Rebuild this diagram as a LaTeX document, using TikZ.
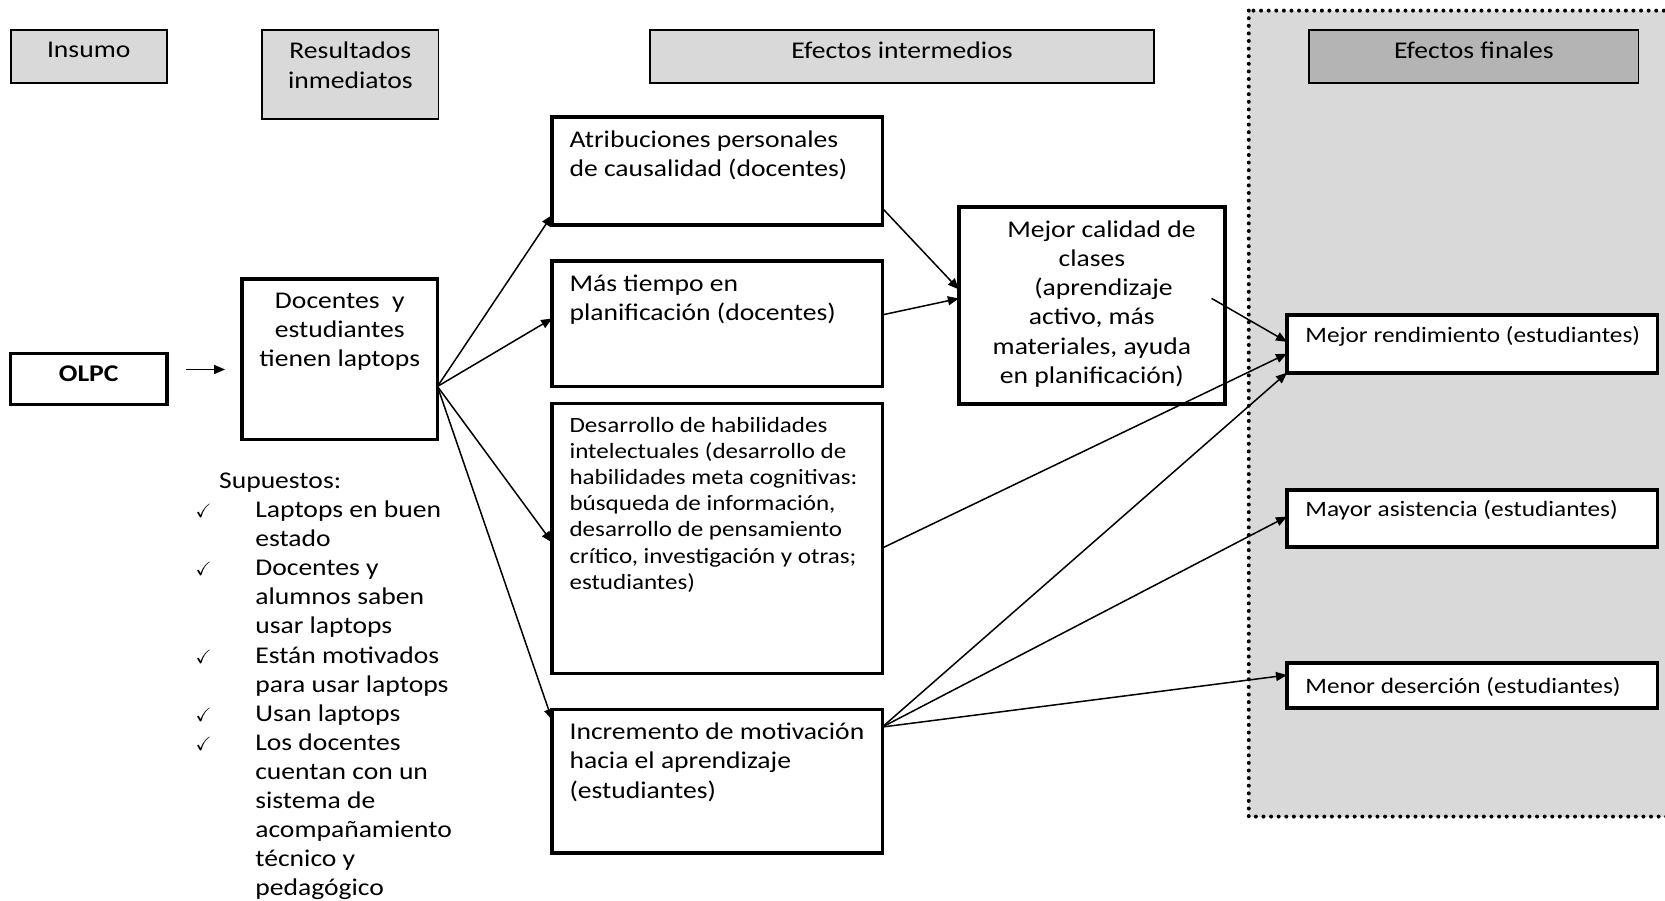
\documentclass[tikz,border=0pt]{standalone}
\usepackage{amssymb}
\usepackage{fontspec}
\setmainfont{Carlito}[FakeStretch=1.15]
\usetikzlibrary{arrows.meta, positioning, calc}
\definecolor{cHead}{RGB}{217,217,217}
\definecolor{cHeadDark}{RGB}{180,180,180}
\definecolor{cZona}{RGB}{217,217,217}
\tikzset{
	hdr/.style ={rectangle, draw=black, line width=0.9pt, fill=cHead, anchor=north west, inner sep=0pt, outer sep=0pt},
	blk/.style ={rectangle, draw=black, line width=1.8pt, fill=white, anchor=north west, inner sep=0pt, outer sep=0pt},
	txtl/.style={anchor=north west, align=left, inner sep=0pt},
	txtc/.style={anchor=north, align=center, inner sep=0pt},
	sig/.style ={-{Triangle[length=5.5pt, width=4.5pt]}, line width=0.75pt},
	zona/.style={fill=cZona, line width=2pt, line cap=round, dash pattern=on 0pt off 3.8pt},
}
\newcommand{\chk}{\makebox[30.3pt][l]{\hspace{0.5pt}\scalebox{0.8}{$\checkmark$}}}

\begin{document}
\begin{tikzpicture}[x=0.531pt, y=-0.531pt, font=\fontsize{12}{14.6}\selectfont]
	\useasboundingbox (0,0) rectangle (1568,848);
	\clip (0,0) rectangle (1568,848);
	% encabezados
	\node[hdr, minimum width=78.1pt, minimum height=26.6pt] (insumo) at (10,28) {};
	\node[txtc] (insumo-t) at ([yshift=-6.1pt]insumo.north) {Insumo};
	\node[hdr, minimum width=88.1pt, minimum height=44.6pt] (resul) at (247,28) {};
	\node[txtc] (resul-t) at ([yshift=-6.1pt]resul.north) {Resultados\\inmediatos};
	\node[hdr, minimum width=252.2pt, minimum height=26.6pt] (interm) at (612,28) {};
	\node[txtc] (interm-t) at ([yshift=-6.1pt]interm.north) {Efectos intermedios};
	% zona de efectos finales
	\draw[zona] (1176,10) rectangle (1600,769);
	\node[hdr, fill=cHeadDark, minimum width=164.6pt, minimum height=26.6pt] (finales) at (1233,28) {};
	\node[txtc] (finales-t) at ([yshift=-6.1pt]finales.north) {Efectos finales};

	% insumo y resultados
	\node[blk, minimum width=78.1pt, minimum height=25.5pt] (olpc) at (10,333) {};
	\node[txtc, font=\fontsize{12}{14.6}\selectfont\bfseries] (olpc-t) at ([yshift=-6pt]olpc.north) {OLPC};
	\node[blk, minimum width=97.7pt, minimum height=80.2pt] (doc) at (228,263) {};
	\node[txtc] (doc-t) at ([yshift=-6.7pt]doc.north) {Docentes~ y\\estudiantes\\tienen laptops};
	\node[txtl, font=\fontsize{12}{14.55}\selectfont] (supuestos) at (183,445) {\hspace*{12.2pt}Supuestos:\\
		\chk Laptops en buen\\ \hspace*{30.3pt}estado\\
		\chk Docentes y\\ \hspace*{30.3pt}alumnos saben\\ \hspace*{30.3pt}usar laptops\\
		\chk Están motivados\\ \hspace*{30.3pt}para usar laptops\\
		\chk Usan laptops\\
		\chk Los docentes\\ \hspace*{30.3pt}cuentan con un\\ \hspace*{30.3pt}sistema de\\
		\hspace*{30.3pt}acompañamiento\\ \hspace*{30.3pt}técnico y\\ \hspace*{30.3pt}pedagógico};

	% efectos intermedios
	\node[blk, minimum width=165.1pt, minimum height=54.2pt] (atrib) at (520,110) {};
	\node[blk, minimum width=165.1pt, minimum height=62.7pt, below=18pt of atrib] (mas) {};
	\node[blk, minimum width=165.1pt, minimum height=134.9pt, below=8.5pt of mas] (desa) {};
	\node[blk, minimum width=165.1pt, minimum height=71.7pt, below=18pt of desa] (incr) {};
	\node[txtl] (atrib-t) at ([shift={(8.5pt,-6.7pt)}]atrib.north west) {Atribuciones personales\\de causalidad (docentes)};
	\node[txtl] (mas-t) at ([shift={(8.5pt,-6.7pt)}]mas.north west) {Más tiempo en\\planificación (docentes)};
	\node[txtl, font=\fontsize{10.9}{13.1}\selectfont] (desa-t) at ([shift={(8.5pt,-6.5pt)}]desa.north west) {Desarrollo de habilidades\\intelectuales (desarrollo de\\habilidades meta cognitivas:\\búsqueda de información,\\desarrollo de pensamiento\\crítico, investigación y otras;\\estudiantes)};
	\node[txtl] (incr-t) at ([shift={(8.5pt,-6.7pt)}]incr.north west) {Incremento de motivación\\hacia el aprendizaje\\(estudiantes)};
	\node[blk, minimum width=133pt, minimum height=98.6pt] (calidad) at (903,195) {};
	\node[txtc] (calidad-t) at ([yshift=-6.6pt]calidad.north) {\hspace*{9.6pt}Mejor calidad de\\clases\\ \hspace*{11.7pt}(aprendizaje\\activo, más\\materiales, ayuda\\en planificación)};

	% efectos finales
	\node[blk, minimum width=185.3pt, minimum height=28.9pt] (rend) at (1212,296.6) {};
	\node[blk, minimum width=185.3pt, minimum height=28.4pt, below=58.7pt of rend] (asist) {};
	\node[blk, minimum width=185.3pt, minimum height=22.6pt, below=58.1pt of asist] (deser) {};
	\node[txtl, font=\fontsize{11}{13.4}\selectfont] (rend-t) at ([shift={(9pt,-5.7pt)}]rend.north west) {Mejor rendimiento (estudiantes)};
	\node[txtl, font=\fontsize{11}{13.4}\selectfont] (asist-t) at ([shift={(9pt,-4.7pt)}]asist.north west) {Mayor asistencia (estudiantes)};
	\node[txtl, font=\fontsize{11}{13.4}\selectfont] (deser-t) at ([shift={(9pt,-7.2pt)}]deser.north west) {Menor deserción (estudiantes)};

	% conectores
	\draw[sig, shorten <=9.6pt, shorten >=8.5pt] ([yshift=4.8pt]olpc.east) -- ([yshift=4.8pt]olpc.east -| doc.west);
	\coordinate (docR) at ([yshift=-13.5pt]doc.east);
	\draw[sig] (docR) -- ([yshift=-22pt]atrib.west);
	\draw[sig] (docR) -- ([yshift=2.7pt]mas.west);
	\draw[sig] (docR) -- ([yshift=-2pt]desa.west);
	\draw[sig] (docR) -- ([yshift=30.5pt]incr.west);
	\draw[sig] ([yshift=-18.6pt]atrib.east) -- ([yshift=8.1pt]calidad.west);
	\draw[sig] ([yshift=4.5pt]mas.east) -- ([yshift=3.6pt]calidad.west);
	\coordinate (calidadIn) at (1141,281);
	\draw[sig] (calidadIn) -- ([yshift=1pt]rend.west);
	\draw[sig] ([yshift=-4.8pt]desa.east) -- ([yshift=-4.9pt]rend.west);
	\coordinate (incrR) at ([yshift=27pt]incr.east);
	\draw[sig] (incrR) -- (rend.south west);
	\draw[sig] (incrR) -- ([yshift=1pt]asist.west);
	\draw[sig] (incrR) -- ([yshift=5.3pt]deser.west);
\end{tikzpicture}
\end{document}
